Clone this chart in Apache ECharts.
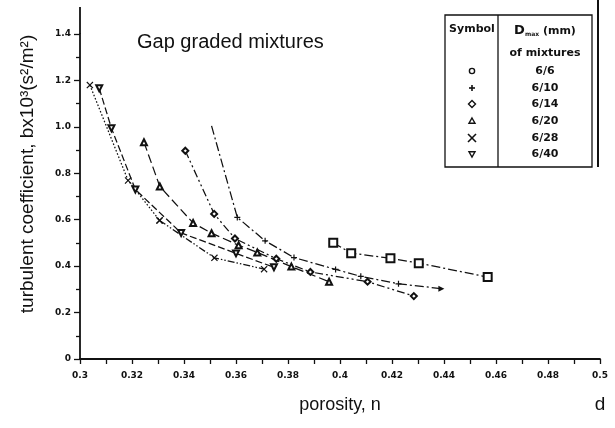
<!DOCTYPE html>
<html>
<head>
<meta charset="utf-8">
<script src="https://cdn.jsdelivr.net/npm/echarts@6/dist/echarts.min.js"></script>
<style>
  html, body { margin: 0; padding: 0; background: #fff; }
  #chart { width: 615px; height: 428px; }
</style>
</head>
<body>
<div id="chart"></div>
<script>
// Gap graded mixtures: turbulent coefficient b against porosity n
const mixtures = ['6/6', '6/10', '6/14', '6/20', '6/28', '6/40'];

// [porosity n, b x 10^3]
const mix6_6  = [[0.3974, 0.501], [0.4043, 0.456], [0.4194, 0.434], [0.4303, 0.413], [0.4568, 0.353]];
const mix6_10 = [[0.3506, 1.004], [0.3605, 0.610], [0.3712, 0.509], [0.3823, 0.437], [0.3983, 0.386], [0.4080, 0.356], [0.4225, 0.324], [0.4390, 0.303]];
const mix6_14 = [[0.3405, 0.897], [0.3516, 0.625], [0.3596, 0.519], [0.3755, 0.432], [0.3886, 0.375], [0.4106, 0.333], [0.4284, 0.271]];
const mix6_20 = [[0.3246, 0.934], [0.3307, 0.743], [0.3435, 0.586], [0.3506, 0.542], [0.3610, 0.490], [0.3682, 0.459], [0.3813, 0.398], [0.3958, 0.333]];
const mix6_28 = [[0.3038, 1.180], [0.3185, 0.769], [0.3306, 0.597], [0.3517, 0.436], [0.3708, 0.387]];
const mix6_40 = [[0.3074, 1.166], [0.3121, 0.994], [0.3213, 0.730], [0.3389, 0.543], [0.3600, 0.455], [0.3746, 0.395]];

const xMin = 0.3, xMax = 0.5, xStep = 0.02;
const yMin = 0, yMax = 1.4, yStep = 0.2;

const INK = '#111';
const SANS = '"DejaVu Sans", sans-serif';
const CAPTION = '"Liberation Sans", sans-serif';

const PLUS = 'path://M4,0H6V4H10V6H6V10H4V6H0V4H4Z';
const CROSS = 'path://M1.2,0L5,3.8L8.8,0L10,1.2L6.2,5L10,8.8L8.8,10L5,6.2L1.2,10L0,8.8L3.8,5L0,1.2Z';

function curve(name, data, dash, symbol, size, extra) {
  return Object.assign({
    type: 'line',
    name: name,
    data: data,
    symbol: symbol,
    symbolSize: size,
    showAllSymbol: true,
    animation: false,
    lineStyle: { color: INK, width: 1.25, type: dash },
    itemStyle: { color: INK, borderWidth: 1.3 },
    emphasis: { disabled: true }
  }, extra || {});
}

const lastIdx10 = mix6_10.length - 1;

const series = [
  curve(mixtures[0], mix6_6, [9, 3, 2, 3], 'emptyRect', 8),
  curve(mixtures[1], mix6_10, [9, 3, 2, 3],
    (v, p) => p.dataIndex === 0 ? 'none' : (p.dataIndex === lastIdx10 ? 'triangle' : PLUS), 6,
    { symbolRotate: (v, p) => p.dataIndex === lastIdx10 ? -90 : 0 }),
  curve(mixtures[2], mix6_14, [8, 3, 2, 3, 2, 3], 'emptyDiamond', 6),
  curve(mixtures[3], mix6_20, [9, 4], 'emptyTriangle', 6),
  curve(mixtures[4], mix6_28.slice(0, 3), [1.5, 2], CROSS, 7),
  curve(mixtures[4], mix6_28.slice(2), [7, 2, 1.5, 2, 1.5, 2], CROSS, 7),
  curve(mixtures[5], mix6_40, [7, 3], 'emptyTriangle', 6, { symbolRotate: 180 })
];

// legend table drawn on the right
const legX = 445, legY = 15, legW = 147, legH = 152, legDiv = 498;
const symX = 472, txtX = 545;
const rowY = [71, 88, 104, 121, 138, 154];

const graphic = [
  { type: 'line', shape: { x1: 80, y1: 7, x2: 80, y2: 34 }, style: { stroke: INK, lineWidth: 1.8 } },
  { type: 'rect', shape: { x: legX, y: legY, width: legW, height: legH }, style: { fill: '#fff', stroke: INK, lineWidth: 1.3 } },
  { type: 'line', shape: { x1: legDiv, y1: legY, x2: legDiv, y2: legY + legH }, style: { stroke: INK, lineWidth: 1.3 } },
  { type: 'line', shape: { x1: 598, y1: 0, x2: 598, y2: legY + legH }, style: { stroke: INK, lineWidth: 2 } },
  { type: 'text', style: { x: 472, y: 29, text: 'Symbol', font: 'bold 11px ' + SANS, fill: INK, textAlign: 'center', textVerticalAlign: 'middle' } },
  { type: 'text', style: { x: txtX, y: 31, text: '{a|D}{b|max}{c| (mm)}', fill: INK, textAlign: 'center', textVerticalAlign: 'middle',
      rich: { a: { font: 'bold 13px ' + SANS, fill: INK }, b: { font: 'bold 6px ' + SANS, fill: INK, verticalAlign: 'bottom' }, c: { font: 'bold 11px ' + SANS, fill: INK } } } },
  { type: 'text', style: { x: txtX, y: 53, text: 'of mixtures', font: 'bold 11px ' + SANS, fill: INK, textAlign: 'center', textVerticalAlign: 'middle' } },
  // symbol column
  { type: 'circle', shape: { cx: symX, cy: rowY[0], r: 2.6 }, style: { fill: '#fff', stroke: INK, lineWidth: 1.4 } },
  { type: 'line', shape: { x1: symX - 3, y1: rowY[1], x2: symX + 3, y2: rowY[1] }, style: { stroke: INK, lineWidth: 1.6 } },
  { type: 'line', shape: { x1: symX, y1: rowY[1] - 3, x2: symX, y2: rowY[1] + 3 }, style: { stroke: INK, lineWidth: 1.6 } },
  { type: 'polygon', shape: { points: [[symX, rowY[2] - 3.5], [symX + 3.5, rowY[2]], [symX, rowY[2] + 3.5], [symX - 3.5, rowY[2]]] }, style: { fill: '#fff', stroke: INK, lineWidth: 1.4 } },
  { type: 'polygon', shape: { points: [[symX, rowY[3] - 3], [symX + 3, rowY[3] + 2.2], [symX - 3, rowY[3] + 2.2]] }, style: { fill: '#fff', stroke: INK, lineWidth: 1.4 } },
  { type: 'line', shape: { x1: symX - 4, y1: rowY[4] - 4, x2: symX + 4, y2: rowY[4] + 4 }, style: { stroke: INK, lineWidth: 1.6 } },
  { type: 'line', shape: { x1: symX - 4, y1: rowY[4] + 4, x2: symX + 4, y2: rowY[4] - 4 }, style: { stroke: INK, lineWidth: 1.6 } },
  { type: 'polygon', shape: { points: [[symX - 3, rowY[5] - 2.2], [symX + 3, rowY[5] - 2.2], [symX, rowY[5] + 3]] }, style: { fill: '#fff', stroke: INK, lineWidth: 1.4 } },
  // chart title and axis captions
  { type: 'text', style: { x: 137, y: 42, text: 'Gap graded mixtures', font: '20px ' + CAPTION, fill: INK, textAlign: 'left', textVerticalAlign: 'middle' } },
  { type: 'text', x: 28, y: 174, rotation: Math.PI / 2, style: { x: 0, y: 0, text: 'turbulent coefficient, bx10³(s²/m²)', font: '19px ' + CAPTION, fill: INK, textAlign: 'center', textVerticalAlign: 'middle' } },
  { type: 'text', style: { x: 340, y: 405, text: 'porosity, n', font: '18px ' + CAPTION, fill: INK, textAlign: 'center', textVerticalAlign: 'middle' } },
  { type: 'text', style: { x: 600, y: 405, text: 'd', font: '19px ' + CAPTION, fill: INK, textAlign: 'center', textVerticalAlign: 'middle' } }
];
// legend labels
mixtures.forEach((m, i) => {
  graphic.push({ type: 'text', style: { x: txtX, y: rowY[i], text: m, font: 'bold 11px ' + SANS, fill: INK, textAlign: 'center', textVerticalAlign: 'middle' } });
});

const chart = echarts.init(document.getElementById('chart'), null, { renderer: 'canvas' });
chart.setOption({
  backgroundColor: '#fff',
  animation: false,
  grid: { left: 80, right: 15, top: 34, bottom: 69, containLabel: false },
  xAxis: {
    type: 'value', min: xMin, max: xMax, interval: xStep,
    axisLine: { show: true, lineStyle: { color: INK, width: 1.8 } },
    axisTick: { show: true, length: 5, lineStyle: { color: INK, width: 1.3 } },
    minorTick: { show: true, splitNumber: 2, length: 5, lineStyle: { color: INK, width: 1.3 } },
    splitLine: { show: false },
    axisLabel: { color: INK, fontFamily: SANS, fontWeight: 'bold', fontSize: 9, margin: 12,
      formatter: v => String(Math.round(v * 100) / 100) }
  },
  yAxis: {
    type: 'value', min: yMin, max: yMax, interval: yStep,
    axisLine: { show: true, lineStyle: { color: INK, width: 1.8 } },
    axisTick: { show: true, length: 6, lineStyle: { color: INK, width: 1.3 } },
    minorTick: { show: true, splitNumber: 2, length: 4, lineStyle: { color: INK, width: 1.3 } },
    splitLine: { show: false },
    axisLabel: { color: INK, fontFamily: SANS, fontWeight: 'bold', fontSize: 9, margin: 9,
      formatter: v => v === 0 ? '0' : v.toFixed(1) }
  },
  series: series,
  graphic: graphic
});
</script>
</body>
</html>
